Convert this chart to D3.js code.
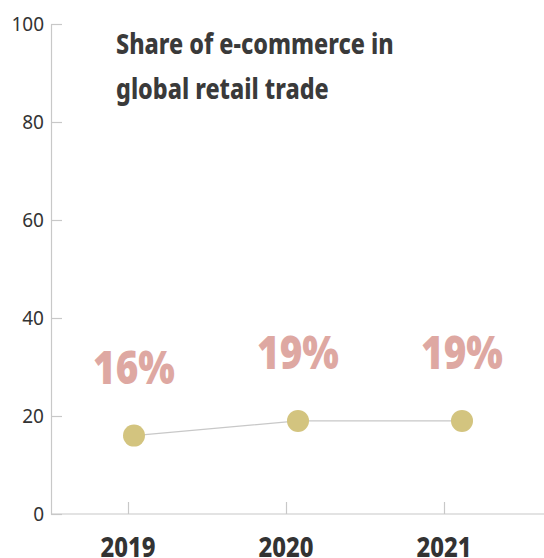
<!DOCTYPE html>
<html>
<head>
<meta charset="UTF-8">
<title>ecommerce share</title>
<style type="text/css">
	body { margin: 0; background: #fff; }
	.axis path, .axis line { stroke: rgb(200, 200, 200); stroke-width: 1.2px; }
	.y.axis text { font-family: "Noto Sans", sans-serif; font-size: 19px; fill: #333; }
	.year { font-family: "Noto Sans", sans-serif; font-size: 28px; font-weight: 800; fill: #333; }
	.title { font-family: "Noto Sans", sans-serif; font-size: 28.5px; font-weight: 800; fill: #3a3a3a; }
	.pct { font-family: "Noto Sans", sans-serif; font-size: 46px; font-weight: 900; fill: #dea8a2; text-anchor: middle; }
</style>
<script type="text/javascript" src="https://d3js.org/d3.v7.min.js"></script>
</head>
<body>
<div id="div_main"></div>
<script type="text/javascript">

	var years = ["2019", "2020", "2021"];
	var shares = [16, 19, 19];
	var yTicks = [0, 20, 40, 60, 80, 100];
	var titleLines = ["Share of e-commerce in", "global retail trade"];

	var svg_w = 544, svg_h = 558;
	var x0 = 51, yTop = 24, yBottom = 514;

	// the original uses a condensed face, so squeeze Noto Sans a bit
	function squeeze(x, y, k) {
		return "translate(" + x + "," + y + ") scale(" + k + ",1)";
	}

	var svg = d3.select("#div_main")
				.append("svg")
					.attr("width", svg_w)
					.attr("height", svg_h);

	var scaleY = d3.scaleLinear()
					.domain([0, 100])
					.range([yBottom, yTop]);

	// axis ticks and the dots sit on slightly different grids in the original
	var scaleX = d3.scalePoint()
					.domain(years)
					.range([49, 523])
					.padding(0.5);

	var scaleDot = d3.scalePoint()
					.domain(years)
					.range([52, 544])
					.padding(0.5);

	// y axis, ticks pointing inside
	var axisY = d3.axisRight(scaleY)
					.tickValues(yTicks)
					.tickSize(11)
					.tickSizeOuter(0);

	var gy = svg.append("g")
			.attr("class", "y axis")
			.attr("transform", "translate(" + x0 + ",0)")
			.call(axisY);
	gy.selectAll("text").attr("text-anchor", "end").attr("x", -7);

	// x axis line + ticks pointing up
	var axisX = d3.axisTop(scaleX)
					.tickSize(12)
					.tickSizeOuter(0)
					.tickFormat("");

	var gx = svg.append("g")
			.attr("class", "x axis")
			.attr("transform", "translate(0," + yBottom + ")")
			.call(axisX);
	gx.select("path.domain").attr("d", "M" + x0 + ",0H" + svg_w);

	gx.selectAll("text.year")
		.data(years)
		.enter()
		.append("text")
			.attr("class", "year")
			.attr("transform", function (d) { return squeeze(scaleX(d), 43, 0.85); })
			.attr("text-anchor", "middle")
			.text(function (d) { return d; });

	// title
	svg.selectAll("text.title")
		.data(titleLines)
		.enter()
		.append("text")
			.attr("class", "title")
			.attr("transform", function (d, i) { return squeeze(116, 54 + i * 45, 0.82); })
			.text(function (d) { return d; });

	var data = years.map(function (d, i) { return { year: d, value: shares[i] }; });

	var line = d3.line()
				.x(function (d) { return scaleDot(d.year); })
				.y(function (d) { return scaleY(d.value); });

	svg.append("path")
		.datum(data)
		.attr("d", line)
		.attr("fill", "none")
		.attr("stroke", "#c8c8c8")
		.attr("stroke-width", 1.2);

	svg.selectAll("circle.dot")
		.data(data)
		.enter()
		.append("circle")
			.attr("class", "dot")
			.attr("cx", function (d) { return scaleDot(d.year); })
			.attr("cy", function (d) { return scaleY(d.value); })
			.attr("r", 11)
			.attr("fill", "#d3c47f");

	svg.selectAll("text.pct")
		.data(data)
		.enter()
		.append("text")
			.attr("class", "pct")
			.attr("transform", function (d) { return squeeze(scaleDot(d.year), scaleY(d.value) - 52, 0.84); })
			.text(function (d) { return d.value + "%"; });

</script>
</body>
</html>
